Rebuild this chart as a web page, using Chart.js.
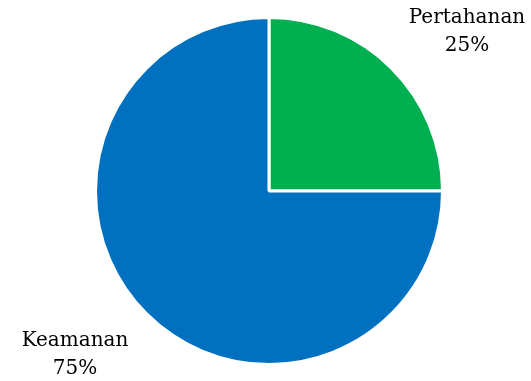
<!DOCTYPE html>
<html>
<head>
<meta charset="utf-8">
<script src="https://cdn.jsdelivr.net/npm/chart.js@4/dist/chart.umd.min.js"></script>
<style>
  html, body { margin: 0; padding: 0; background: #fff; }
  #wrap { width: 531px; height: 381px; }
</style>
</head>
<body>
<div id="wrap"><canvas id="c"></canvas></div>
<script>
// Pie data (order: starts at 12 o'clock, clockwise)
const labels = ['Pertahanan', 'Keamanan'];
const values = [25, 75];
const colors = ['#00B050', '#0070C0'];

// label anchor points (text centre x, first line y)
const labelPos = [
    { x: 467, y: 18 },
    { x: 75, y: 341 },
];

const FONT = "20px 'Palatino Linotype', 'Book Antiqua', 'DejaVu Serif', 'Liberation Serif', serif";

const outsideLabels = {
    id: 'outsideLabels',
    afterDraw(chart) {
        const ctx = chart.ctx;
        const total = values.reduce((a, b) => a + b, 0);
        ctx.save();
        ctx.font = FONT;
        ctx.fillStyle = '#000';
        ctx.textAlign = 'center';
        ctx.textBaseline = 'middle';
        labels.forEach((name, i) => {
            const p = labelPos[i];
            const pct = Math.round(values[i] / total * 100) + '%';
            ctx.fillText(name, p.x, p.y);
            ctx.fillText(pct, p.x, p.y + 28);
        });
        ctx.restore();
    }
};

new Chart(document.getElementById('c'), {
    type: 'pie',
    data: {
        labels,
        datasets: [{
            data: values,
            backgroundColor: colors,
            borderColor: '#ffffff',
            borderWidth: 3,
        }]
    },
    options: {
        responsive: true,
        maintainAspectRatio: false,
        animation: false,
        layout: { padding: { left: 94, right: 87, top: 16, bottom: 15 } },
        plugins: {
            legend: { display: false },
            tooltip: { enabled: false },
        },
    },
    plugins: [outsideLabels],
});
</script>
</body>
</html>
